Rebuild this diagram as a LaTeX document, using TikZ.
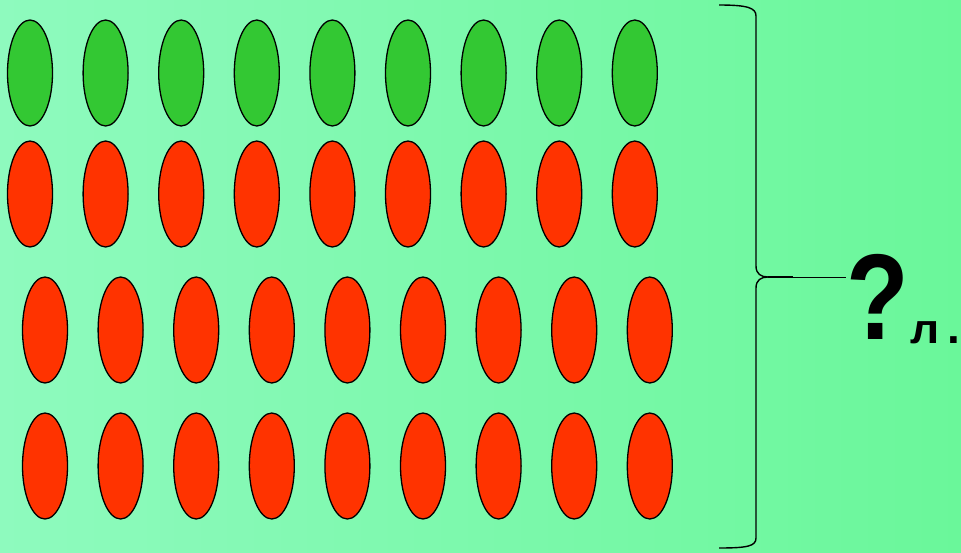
\documentclass[tikz,border=0pt]{standalone}
\usepackage{fontspec}
\setmainfont{Liberation Sans}
\usetikzlibrary{shapes.geometric}
\definecolor{bgleft}{RGB}{142,250,190}
\definecolor{bgright}{RGB}{106,247,154}
\definecolor{leafgreen}{RGB}{51,200,51}
\definecolor{leafred}{RGB}{255,51,0}
\begin{document}
\begin{tikzpicture}[x=1pt,y=-1pt,
  leaf/.style={ellipse, draw=black, line width=1.3pt, minimum width=45pt, minimum height=106pt, inner sep=0pt},
  gleaf/.style={leaf, fill=leafgreen},
  rleaf/.style={leaf, fill=leafred},
  bracestyle/.style={line width=1.4pt, draw=black}]
\shade[left color=bgleft, right color=bgright] (0,0) rectangle (961,552);
\useasboundingbox (0,0) rectangle (961,552);
\foreach \i in {0,...,8} {
  \node[gleaf] (g\i) at ({30+75.6*\i},73) {};
  \node[rleaf] (a\i) at ({30+75.6*\i},194) {};
  \node[rleaf] (b\i) at ({45+75.6*\i},330) {};
  \node[rleaf] (c\i) at ({45+75.6*\i},466) {};
}
\node[font=\bfseries\fontsize{122}{122}\selectfont, anchor=base west, inner sep=0pt] (q) at (846,339) {\scalebox{0.84}[1]{?}};
\node[font=\bfseries\fontsize{46}{46}\selectfont, anchor=base west, inner sep=0pt] (l) at (910,343) {\scalebox{1.0}[0.9]{л}\hspace{8pt}.};
\coordinate (tip) at (768,277);
\draw[bracestyle] (719,5) .. controls (748,5) and (756,8) .. (756,16)
  -- (756,266) .. controls (756,274) and (761,277) .. (tip)
  .. controls (761,277) and (756,280) .. (756,288)
  -- (756,538) .. controls (756,546) and (748,548) .. (719,548);
\draw[line width=1.5pt] (tip) -- (793,277);
\draw[line width=0.8pt] (793,277) -- (q.west |- 0,277);
\end{tikzpicture}
\end{document}
